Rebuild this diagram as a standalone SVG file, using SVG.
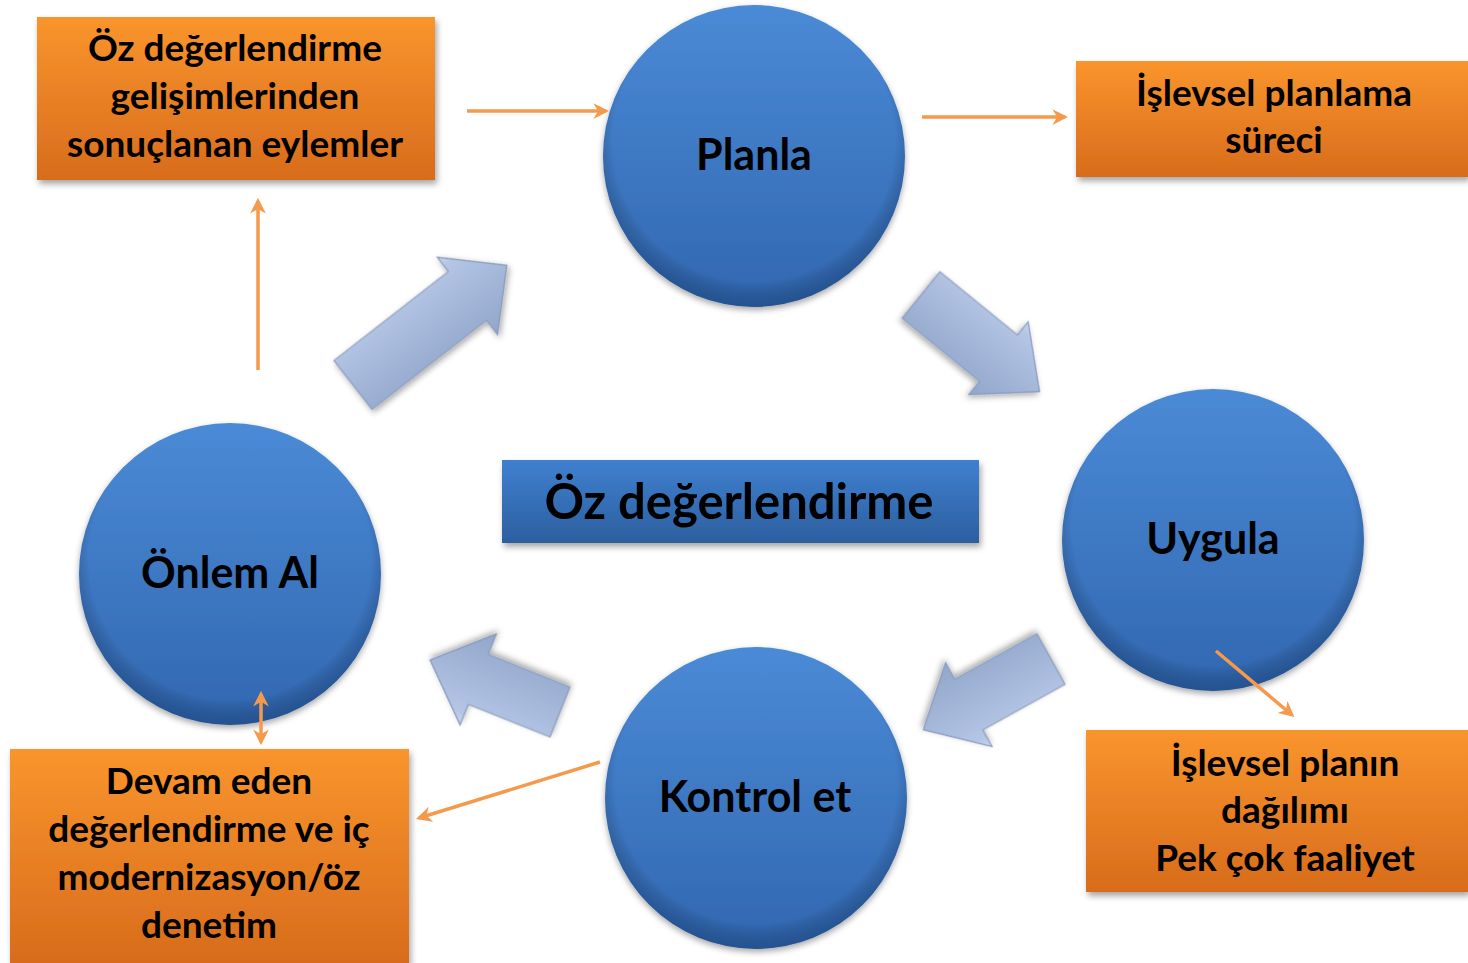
<svg xmlns="http://www.w3.org/2000/svg" width="1468" height="963" viewBox="0 0 1468 963">
<defs>
<style>
.t{font-family:Lato,"Liberation Sans",sans-serif;font-weight:bold;fill:#000;text-anchor:middle}
.bt{font-size:37px}
.ct{font-size:43px}
.thin{stroke:#f59a4c;stroke-width:3.5;fill:none}
.blk{fill:url(#gArrow);stroke:#8799ba;stroke-width:1.2}
</style>
<linearGradient id="gOrange" x1="0" y1="0" x2="0" y2="1">
<stop offset="0" stop-color="#f9952d"/>
<stop offset="1" stop-color="#d86c1c"/>
</linearGradient>
<linearGradient id="gBlueBox" x1="0" y1="0" x2="0" y2="1">
<stop offset="0" stop-color="#3f80d0"/>
<stop offset="1" stop-color="#2c5f9f"/>
</linearGradient>
<linearGradient id="gCircle" x1="0" y1="0" x2="0" y2="1">
<stop offset="0" stop-color="#4b8ad6"/>
<stop offset="1" stop-color="#3167b0"/>
</linearGradient>
<radialGradient id="gEdge" cx="0.5" cy="0.45" r="0.55">
<stop offset="0.85" stop-color="#000" stop-opacity="0"/>
<stop offset="1" stop-color="#0d2c5a" stop-opacity="0.35"/>
</radialGradient>
<linearGradient id="gArrow" x1="0" y1="0" x2="0" y2="1">
<stop offset="0" stop-color="#cbd7ee"/>
<stop offset="0.12" stop-color="#b4c5e5"/>
<stop offset="1" stop-color="#91a6cb"/>
</linearGradient>
<filter id="sh" x="-10%" y="-10%" width="125%" height="130%">
<feDropShadow dx="2" dy="4" stdDeviation="3" flood-color="#000" flood-opacity="0.35"/>
</filter>
<filter id="shc" x="-10%" y="-10%" width="125%" height="125%">
<feDropShadow dx="0" dy="3" stdDeviation="3" flood-color="#000" flood-opacity="0.35"/>
</filter>
<marker id="ah" viewBox="0 0 10 10" refX="8" refY="5" markerWidth="4.5" markerHeight="4.5" orient="auto-start-reverse" markerUnits="strokeWidth">
<path d="M0,0 L10,5 L0,10 L3,5 Z" fill="#f59a4c"/>
</marker>
</defs>

<g id="cycle-arrows">
<path id="blk1" class="blk" transform="translate(353,385) rotate(-37.9)" d="M0,-31 L145,-31 L145,-49 L195,0 L145,49 L145,31 L0,31 Z" filter="url(#shc)"/>
<path id="blk2" class="blk" transform="translate(921,295) rotate(39.2)" d="M0,-30 L100,-30 L100,-47 L153,0 L100,47 L100,30 L0,30 Z" filter="url(#shc)"/>
<path id="blk3" class="blk" transform="translate(560,712) rotate(201.8)" d="M0,-27 L88,-27 L88,-49 L140,0 L88,49 L88,27 L0,27 Z" filter="url(#shc)"/>
<path id="blk4" class="blk" transform="translate(1051,659) rotate(151)" d="M0,-29 L94,-29 L94,-48 L146,0 L94,48 L94,29 L0,29 Z" filter="url(#shc)"/>
</g>

<g id="box1">
<rect x="37" y="17" width="398" height="163" fill="url(#gOrange)" filter="url(#sh)"/>
<text class="t bt" x="235" y="61">Öz değerlendirme</text>
<text class="t bt" x="235" y="109">gelişimlerinden</text>
<text class="t bt" x="235" y="157">sonuçlanan eylemler</text>
</g>

<g id="box2">
<rect x="1076" y="61" width="392" height="116" fill="url(#gOrange)" filter="url(#sh)"/>
<text class="t bt" x="1274" y="106">İşlevsel planlama</text>
<text class="t bt" x="1274" y="153">süreci</text>
</g>

<g id="box3">
<rect x="1086" y="730" width="382" height="162" fill="url(#gOrange)" filter="url(#sh)"/>
<text class="t bt" x="1285" y="776">İşlevsel planın</text>
<text class="t bt" x="1285" y="823">dağılımı</text>
<text class="t bt" x="1285" y="871">Pek çok faaliyet</text>
</g>

<g id="box4">
<rect x="10" y="749" width="399" height="214" fill="url(#gOrange)" filter="url(#sh)"/>
<text class="t bt" x="209" y="794">Devam eden</text>
<text class="t bt" x="209" y="842">değerlendirme ve iç</text>
<text class="t bt" x="209" y="890">modernizasyon/öz</text>
<text class="t bt" x="209" y="938">denetim</text>
</g>

<g id="center">
<rect x="502" y="460" width="477" height="83" fill="url(#gBlueBox)" filter="url(#sh)"/>
<text class="t" x="739" y="519" font-size="49">Öz değerlendirme</text>
</g>

<g id="planla">
<circle cx="754" cy="156" r="151" fill="url(#gCircle)" filter="url(#shc)"/>
<circle cx="754" cy="156" r="151" fill="url(#gEdge)"/>
<text class="t ct" x="754" y="170">Planla</text>
</g>

<g id="uygula">
<circle cx="1213" cy="540" r="151" fill="url(#gCircle)" filter="url(#shc)"/>
<circle cx="1213" cy="540" r="151" fill="url(#gEdge)"/>
<text class="t ct" x="1213" y="554">Uygula</text>
</g>

<g id="kontrol">
<circle cx="756" cy="798" r="151" fill="url(#gCircle)" filter="url(#shc)"/>
<circle cx="756" cy="798" r="151" fill="url(#gEdge)"/>
<text class="t ct" x="755" y="812">Kontrol et</text>
</g>

<g id="onlem">
<circle cx="230" cy="574" r="151" fill="url(#gCircle)" filter="url(#shc)"/>
<circle cx="230" cy="574" r="151" fill="url(#gEdge)"/>
<text class="t ct" x="230" y="588">Önlem Al</text>
</g>

<g id="connectors">
<line class="thin" x1="467" y1="111" x2="606" y2="111" marker-end="url(#ah)"/>
<line class="thin" x1="922" y1="117" x2="1065" y2="117" marker-end="url(#ah)"/>
<line class="thin" x1="258" y1="370" x2="258" y2="201" marker-end="url(#ah)"/>
<line class="thin" x1="1216" y1="651" x2="1292" y2="715" marker-end="url(#ah)"/>
<line class="thin" x1="261" y1="694" x2="261" y2="742" marker-start="url(#ah)" marker-end="url(#ah)"/>
<line class="thin" x1="600" y1="762" x2="419" y2="818" marker-end="url(#ah)"/>
</g>
</svg>
